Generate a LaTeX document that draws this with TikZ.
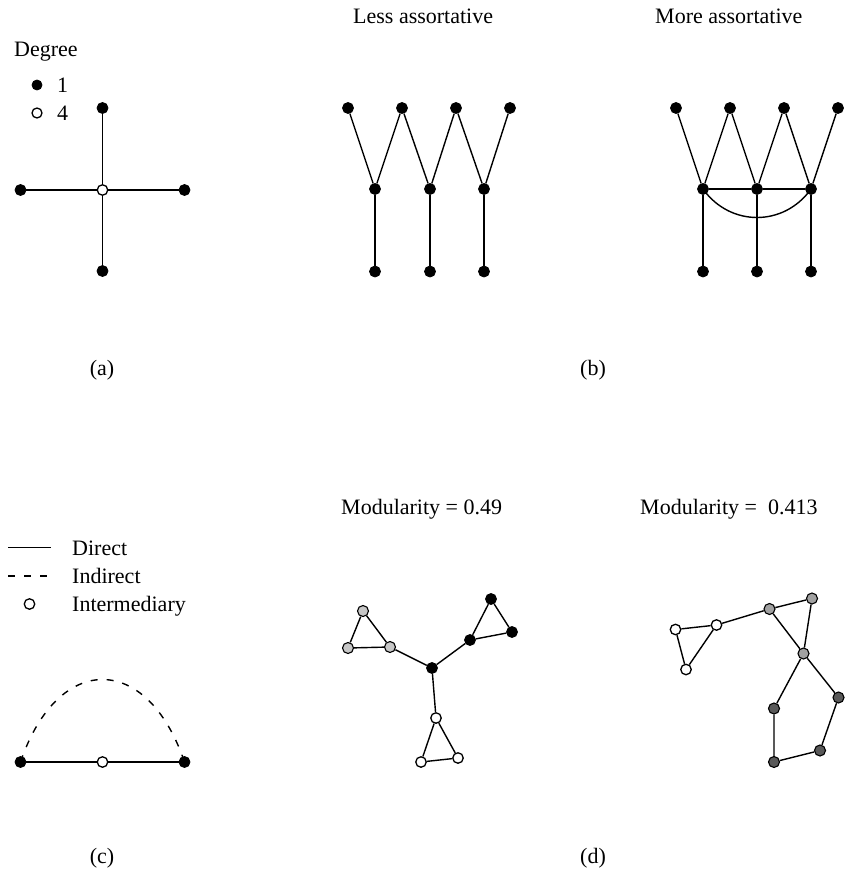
\documentclass[tikz,border=0pt]{standalone}
\usepackage{fontspec}
\setmainfont{Liberation Serif}
\begin{document}
\begin{tikzpicture}[x=1pt,y=-1pt,
  edge/.style={line width=1.4pt},
  dashedge/.style={line width=1.4pt,dash pattern=on 7pt off 9pt},
  blk/.style={circle,fill=black,draw=black,line width=0.8pt,inner sep=0pt,minimum size=11pt},
  wht/.style={circle,fill=white,draw=black,line width=1.3pt,inner sep=0pt,minimum size=10.5pt},
  lgray/.style={circle,fill=black!22,draw=black,line width=1.1pt,inner sep=0pt,minimum size=11pt},
  mgray/.style={circle,fill=black!37,draw=black,line width=1.1pt,inner sep=0pt,minimum size=11pt},
  dgray/.style={circle,fill=black!65,draw=black,line width=1.1pt,inner sep=0pt,minimum size=11pt},
  lbl/.style={font=\fontsize{22}{26}\selectfont,inner sep=0pt}]
\useasboundingbox (0,0) rectangle (857,872);

% ---------- (a) ----------
\node[lbl,anchor=base west] (deg) at (14,57) {Degree};
\node[blk,minimum size=10pt] (l1) at (37,85) {};
\node[lbl,anchor=base west] (t1) at (57,92.5) {1};
\node[wht,minimum size=10pt] (l4) at (37,113) {};
\node[lbl,anchor=base west] (t4) at (57,121) {4};
\node[wht] (c) at (102.5,190) {};
\node[blk] (n) at (102.5,108) {};
\node[blk] (s) at (102.5,271) {};
\node[blk] (w) at (20.5,190) {};
\node[blk] (e) at (184.5,190) {};
\draw[edge] (c) -- (n) (c) -- (s) (c) -- (w) (c) -- (e);
\node[lbl,anchor=base] (la) at (102,375) {(a)};

% ---------- (b) left ----------
\node[lbl,anchor=base west] (less) at (353,24) {Less assortative};
\foreach \i/\x in {1/348,2/402,3/456,4/510} \node[blk] (lt\i) at (\x,108) {};
\foreach \i/\x in {1/375,2/430,3/484} {\node[blk] (lm\i) at (\x,189) {}; \node[blk] (lb\i) at (\x,271.5) {};}
\draw[edge] (lt1) -- (lm1) -- (lt2) -- (lm2) -- (lt3) -- (lm3) -- (lt4);
\foreach \i in {1,2,3} \draw[edge] (lm\i) -- (lb\i);
\node[lbl,anchor=base] (lb) at (593,375) {(b)};

% ---------- (b) right ----------
\node[lbl,anchor=base west] (more) at (655,24) {More assortative};
\foreach \i/\x in {1/676,2/730,3/784,4/838} \node[blk] (rt\i) at (\x,108) {};
\foreach \i/\x in {1/703,2/757,3/811} {\node[blk] (rm\i) at (\x,189) {}; \node[blk] (rb\i) at (\x,271.5) {};}
\draw[edge] (rt1) -- (rm1) -- (rt2) -- (rm2) -- (rt3) -- (rm3) -- (rt4);
\draw[edge] (rm1) -- (rm2) -- (rm3);
\draw[edge] (rm1.center) .. controls (730,227) and (784,227) .. (rm3.center);
\foreach \i in {1,2,3} \draw[edge] (rm\i) -- (rb\i);

% ---------- (c) ----------
\coordinate (d1) at (8,547.5); \coordinate (d2) at (51,547.5);
\draw[edge] (d1) -- (d2);
\node[lbl,anchor=base west] (tdir) at (72,555) {Direct};
\coordinate (i1) at (8,576); \coordinate (i2) at (51,576);
\draw[dashedge] (i1) -- (i2);
\node[lbl,anchor=base west] (tind) at (72,583) {Indirect};
\node[wht] (im) at (29.5,604) {};
\node[lbl,anchor=base west] (tint) at (72,611) {Intermediary};
\node[blk] (ca) at (20.5,762) {};
\node[wht] (cm) at (102.5,762) {};
\node[blk] (cb) at (184.5,762) {};
\draw[edge] (ca) -- (cm) -- (cb);
\draw[dashedge] (ca.center) .. controls (58,652) and (147,652) .. (cb.center);
\node[lbl,anchor=base] (lc) at (102,863) {(c)};

% ---------- (d) left ----------
\node[lbl,anchor=base west] (mod1) at (341,514) {Modularity = 0.49};
\node[lgray] (ga) at (363,611) {};
\node[lgray] (gb) at (348,648) {};
\node[lgray] (gc) at (390,647) {};
\node[blk] (bc) at (432,668) {};
\node[blk] (bm) at (470,640) {};
\node[blk] (bt) at (491,599) {};
\node[blk] (br) at (512,632) {};
\node[wht] (wa) at (436,718) {};
\node[wht] (wb) at (421,762) {};
\node[wht] (wc) at (458,758) {};
\draw[edge] (ga) -- (gb) -- (gc) -- (ga);
\draw[edge] (gc) -- (bc) -- (bm);
\draw[edge] (bm) -- (bt) -- (br) -- (bm);
\draw[edge] (bc) -- (wa);
\draw[edge] (wa) -- (wb) -- (wc) -- (wa);
\node[lbl,anchor=base] (ld) at (593,863) {(d)};

% ---------- (d) right ----------
\node[lbl,anchor=base west] (mod2) at (640,514) {Modularity =\ \ 0.413};
\node[wht] (xa) at (675.5,629.5) {};
\node[wht] (xb) at (716.5,625) {};
\node[wht] (xc) at (686,669.5) {};
\node[mgray] (ya) at (769.5,609) {};
\node[mgray] (yb) at (812,598.5) {};
\node[mgray] (yc) at (803.5,653.5) {};
\node[dgray] (za) at (838.5,697.5) {};
\node[dgray] (zb) at (774,708.5) {};
\node[dgray] (zc) at (820,750.5) {};
\node[dgray] (zd) at (774,762) {};
\draw[edge] (xa) -- (xb) -- (xc) -- (xa);
\draw[edge] (xb) -- (ya);
\draw[edge] (ya) -- (yb) -- (yc) -- (ya);
\draw[edge] (yc) -- (zb) -- (zd) -- (zc) -- (za) -- (yc);
\end{tikzpicture}
\end{document}
